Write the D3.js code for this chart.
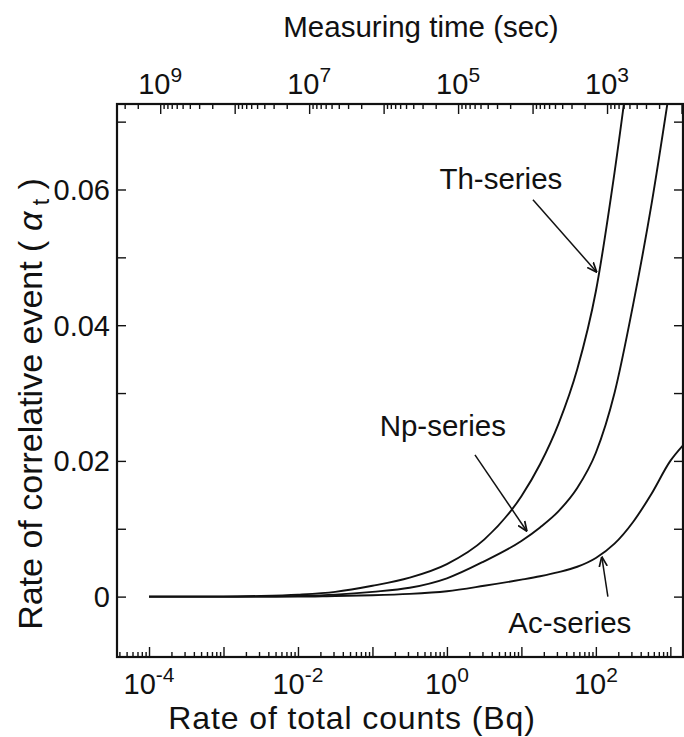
<!DOCTYPE html>
<html><head><meta charset="utf-8">
<script src="https://cdn.jsdelivr.net/npm/d3@7"></script>
<style>
body{margin:0;background:#fff;}
svg text{font-family:"Liberation Sans",Arial,Helvetica,sans-serif;fill:#111;}
</style></head><body>
<svg id="chart" width="684" height="737"></svg>
<script>
// ---- data ----
const rates    = [1e-4, 1e-3, 3.16e-3, 1e-2, 3.16e-2, 0.1, 0.316, 1, 3.16, 10, 17.8, 31.6, 56.2, 100, 178, 316, 562, 1000, 1480];
const thSeries = [0, 0, 0.0001, 0.0003, 0.0007, 0.0016, 0.0028, 0.0048, 0.0084, 0.0148, 0.0195, 0.0255, 0.0335, 0.045, 0.0625, 0.083, null, null, null];
const npSeries = [0, 0, 0, 0.0001, 0.0003, 0.0007, 0.0013, 0.0027, 0.0052, 0.0082, 0.0102, 0.0126, 0.0160, 0.0212, 0.0300, 0.0430, 0.0580, 0.0755, null];
const acSeries = [0, 0, 0, 0, 0.0001, 0.0002, 0.0004, 0.0008, 0.0016, 0.0025, 0.0030, 0.0036, 0.0044, 0.0057, 0.0078, 0.0110, 0.0152, 0.0200, 0.0223];
const seriesNames = ["Th-series", "Np-series", "Ac-series"];
const yTickValues = [0, 0.02, 0.04, 0.06];
const yMinorValues = [0.01, 0.03, 0.05, 0.07];
const bottomTickLabels = [["10","-4",1e-4],["10","-2",1e-2],["10","0",1],["10","2",1e2]];
const topTickLabels = [["10","9",1e9],["10","7",1e7],["10","5",1e5],["10","3",1e3]];
const timeConstant = Math.pow(10, 5.15);   // measuring time = const / rate
// annotation: [label, labelRate, labelValue, arrowFromRate, arrowFromValue, arrowToRate, arrowToValue]
const annotations = [
  ["Th-series", 5.3, 0.0600, 14.3, 0.0585, 103, 0.0478],
  ["Np-series", 0.88, 0.0236, 2.38, 0.0209, 11.9, 0.0096],
  ["Ac-series", 44.7, -0.0053, 145, 0.0000, 120, 0.0059]
];

// ---- layout ----
const W = 684, H = 737;
const pL = 117, pR = 683, pT = 104, pB = 657;
const svg = d3.select("#chart");

const x = d3.scaleLog().domain([Math.pow(10,-4.43), Math.pow(10,3.17)]).range([pL, pR]);
const y = d3.scaleLinear().domain([-0.0089, 0.0726]).range([pB, pT]);
const xt = d3.scaleLog().domain([timeConstant / x.domain()[0], timeConstant / x.domain()[1]]).range([pL, pR]);

const defs = svg.append("defs");
defs.append("clipPath").attr("id","clip")
  .append("rect").attr("x",pL).attr("y",pT).attr("width",pR-pL).attr("height",pB-pT);
defs.append("marker").attr("id","arr")
  .attr("viewBox","0 0 10 10").attr("refX",10).attr("refY",5)
  .attr("markerWidth",10).attr("markerHeight",10).attr("markerUnits","userSpaceOnUse")
  .attr("orient","auto")
  .append("path").attr("d","M0,1 L10,5 L0,9").attr("fill","none").attr("stroke","#111").attr("stroke-width",1.7);

function styleAxis(g){ g.select(".domain").remove(); g.selectAll("line").attr("stroke","#111").attr("stroke-width",1.4); }
const isDecade = v => Math.abs(Math.log10(v) - Math.round(Math.log10(v))) < 1e-6;

const xAll = x.ticks();
svg.append("g").attr("transform",`translate(0,${pB})`)
  .call(d3.axisBottom(x).tickValues(xAll.filter(isDecade)).tickSize(-10).tickFormat("")).call(styleAxis);
svg.append("g").attr("transform",`translate(0,${pB})`)
  .call(d3.axisBottom(x).tickValues(xAll.filter(v => !isDecade(v))).tickSize(-5).tickFormat("")).call(styleAxis);

const tAll = xt.ticks();
svg.append("g").attr("transform",`translate(0,${pT})`)
  .call(d3.axisTop(xt).tickValues(tAll.filter(isDecade)).tickSize(-10).tickFormat("")).call(styleAxis);
svg.append("g").attr("transform",`translate(0,${pT})`)
  .call(d3.axisTop(xt).tickValues(tAll.filter(v => !isDecade(v))).tickSize(-5).tickFormat("")).call(styleAxis);

svg.append("g").attr("transform",`translate(${pL},0)`)
  .call(d3.axisLeft(y).tickValues(yTickValues.concat(yMinorValues)).tickSize(-9).tickFormat("")).call(styleAxis);
svg.append("g").attr("transform",`translate(${pR},0)`)
  .call(d3.axisRight(y).tickValues(yTickValues.concat(yMinorValues)).tickSize(-9).tickFormat("")).call(styleAxis);

svg.append("rect").attr("x",pL).attr("y",pT).attr("width",pR-pL).attr("height",pB-pT)
  .attr("fill","none").attr("stroke","#111").attr("stroke-width",2.2);

svg.append("g").selectAll("text").data(yTickValues).join("text")
  .attr("x", pL - 7).attr("y", d => y(d)).attr("dy","0.36em")
  .attr("text-anchor","end").attr("font-size",29)
  .text(d => d === 0 ? "0" : d3.format(".2f")(d));

function powerLabel(g, data, scale, yy){
  const t = g.selectAll("text").data(data).join("text")
    .attr("x", d => scale(d[2])).attr("y", yy).attr("text-anchor","middle").attr("font-size",29);
  t.append("tspan").text(d => d[0]);
  t.append("tspan").attr("dy",-12).attr("font-size",21).text(d => d[1]);
}
powerLabel(svg.append("g"), bottomTickLabels, x, 694);
powerLabel(svg.append("g"), topTickLabels, xt, 94);

svg.append("text").attr("x",421).attr("y",37).attr("text-anchor","middle").attr("font-size",29.5).text("Measuring time (sec)");
svg.append("text").attr("x",352).attr("y",729).attr("text-anchor","middle").attr("font-size",32)
  .attr("letter-spacing",0.9).text("Rate of total counts (Bq)");
const yl = svg.append("text").attr("transform","translate(42,404) rotate(-90)").attr("text-anchor","middle").attr("font-size",34);
yl.append("tspan").text("Rate of correlative event ( ");
yl.append("tspan").attr("font-style","italic").text("\u03B1");
yl.append("tspan").attr("font-size",23).attr("dy",7).text(" t");
yl.append("tspan").attr("dy",-7).text(" )");

const allSeries = [thSeries, npSeries, acSeries];
const line = d3.line().defined(d => d[1] !== null).x(d => x(d[0])).y(d => y(d[1])).curve(d3.curveMonotoneX);
svg.append("g").attr("clip-path","url(#clip)").selectAll("path").data(allSeries).join("path")
  .attr("d", s => line(rates.map((r,i) => [r, s[i]])))
  .attr("fill","none").attr("stroke","#111").attr("stroke-width",1.9);

const ann = svg.append("g");
ann.selectAll("text").data(annotations).join("text")
  .attr("x", d => x(d[1])).attr("y", d => y(d[2])).attr("text-anchor","middle").attr("font-size",29.5)
  .text(d => d[0]);
ann.selectAll("line").data(annotations).join("line")
  .attr("x1", d => x(d[3])).attr("y1", d => y(d[4])).attr("x2", d => x(d[5])).attr("y2", d => y(d[6]))
  .attr("stroke","#111").attr("stroke-width",1.5).attr("marker-end","url(#arr)");
</script>
</body></html>
